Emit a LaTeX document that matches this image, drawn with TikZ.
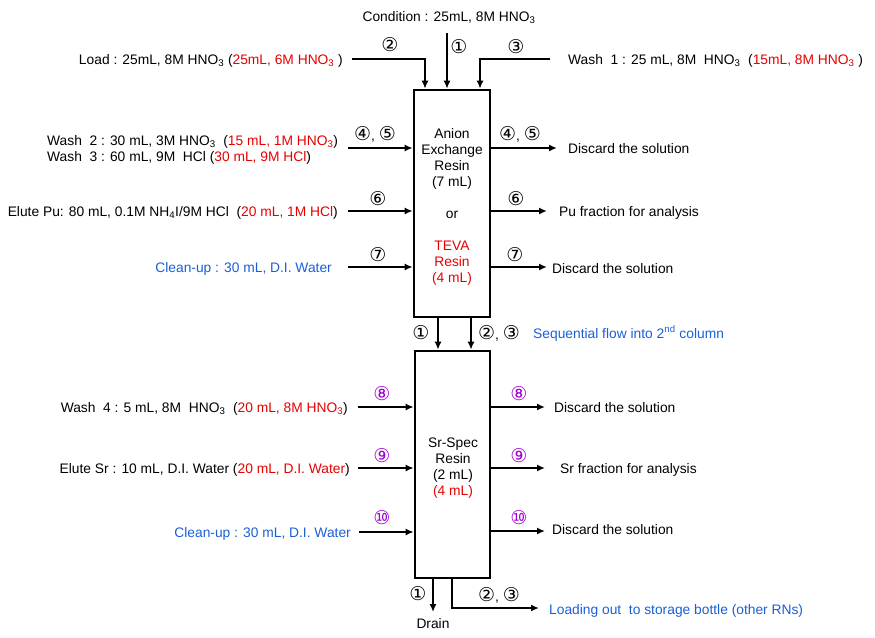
\documentclass[tikz,border=0pt]{standalone}
\usepackage{fontspec}
\setmainfont{Liberation Sans}
\newfontfamily\circfont{DejaVu Sans}
\usetikzlibrary{arrows.meta}
\definecolor{myred}{RGB}{230,0,0}
\definecolor{myblue}{RGB}{25,95,215}
\definecolor{mypurple}{RGB}{160,0,210}
\newcommand{\ssb}[1]{\textsubscript{#1}}
\newcommand{\cmsep}{{\normalfont\fontsize{13.8}{16}\selectfont,\ }}
\begin{document}
\begin{tikzpicture}[x=1pt,y=-1pt,
  font=\fontsize{13.8}{16}\selectfont,
  box/.style={draw, line width=2.6pt, inner sep=0pt},
  arr/.style={line width=1.6pt, -{Latex[length=8pt,width=7pt]}},
  num/.style={font=\circfont\fontsize{19}{20}\selectfont, inner sep=0pt},
  pnum/.style={num, text=mypurple},
  txt/.style={inner sep=0pt, yshift=-2.5pt},
  lt/.style={txt, anchor=mid west},
  rt/.style={txt, anchor=mid east},
  inbox/.style={inner sep=0pt, align=center, font=\fontsize{13.8}{16}\selectfont}
]
\useasboundingbox (0,0) rectangle (875,637);

% columns
\node[box, minimum width=76pt, minimum height=227pt] (col1) at (452,203.5) {};
\node[box, minimum width=75pt, minimum height=227pt] (col2) at (452.5,464.5) {};

% column texts
\node[inbox] (c1a) at (452,159) {Anion\\Exchange\\Resin\\(7 mL)};
\node[inbox] (c1or) at (452,215) {or};
\node[inbox, text=myred] (c1b) at (452,263) {TEVA\\Resin\\(4 mL)};
\node[inbox] (c2a) at (453,468) {Sr-Spec\\Resin\\(2 mL)\\[0pt]\textcolor{myred}{(4 mL)}};

% top inputs
\node[txt, anchor=mid] (cond) at (449,16) {Condition : 25mL, 8M HNO\ssb{3}};
\coordinate (s1) at (447,33);
\draw[arr] (s1) -- (s1 |- col1.north);
\node[num] (n1t) at (459,47) {①};

\node[rt] (load) at (343,59) {Load : 25mL, 8M HNO\ssb{3} (\textcolor{myred}{25mL, 6M HNO\ssb{3}} )};
\coordinate (s2) at (352,59);
\coordinate (t2) at (425,90);
\draw[arr] (s2) -| (t2 |- col1.north);
\node[num] (n2t) at (390,45) {②};

\node[lt] (wash1) at (568,59) {Wash \ 1 : 25 mL, 8M \ HNO\ssb{3} \ (\textcolor{myred}{15mL, 8M HNO\ssb{3}} )};
\coordinate (s3) at (550,59);
\coordinate (t3) at (480,90);
\draw[arr] (s3) -| (t3 |- col1.north);
\node[num] (n3t) at (516,47) {③};

% left inputs column 1
\node[lt] (wash2) at (47,140) {Wash \ 2 : 30 mL, 3M HNO\ssb{3} \ (\textcolor{myred}{15 mL, 1M HNO\ssb{3}})};
\node[lt] (wash3) at (47,156) {Wash \ 3 : 60 mL, 9M \ HCl (\textcolor{myred}{30 mL, 9M HCl})};
\coordinate (s45) at (348,148);
\draw[arr] (s45) -- (s45 -| col1.west);
\node[num] (n45l) at (375,134) {④\cmsep⑤};

\node[rt] (elutepu) at (338,211) {Elute Pu: 80 mL, 0.1M NH\ssb{4}I/9M HCl \ (\textcolor{myred}{20 mL, 1M HCl})};
\coordinate (s6) at (348,211);
\draw[arr] (s6) -- (s6 -| col1.west);
\node[num] (n6l) at (378,199) {⑥};

\node[rt, text=myblue] (clean1) at (332,267) {Clean-up : 30 mL, D.I. Water};
\coordinate (s7) at (348,267);
\draw[arr] (s7) -- (s7 -| col1.west);
\node[num] (n7l) at (378,255) {⑦};

% right outputs column 1
\coordinate (e45) at (557,148);
\draw[arr] (col1.east |- e45) -- (e45);
\node[num] (n45r) at (520,134) {④\cmsep⑤};
\node[lt] (disc1) at (568,148) {Discard the solution};

\coordinate (e6) at (547,211);
\draw[arr] (col1.east |- e6) -- (e6);
\node[num] (n6r) at (516,199) {⑥};
\node[lt] (pufrac) at (559,211) {Pu fraction for analysis};

\coordinate (e7) at (547,267);
\draw[arr] (col1.east |- e7) -- (e7);
\node[num] (n7r) at (515,255) {⑦};
\node[lt] (disc2) at (552,268) {Discard the solution};

% between columns
\coordinate (m1) at (438,334);
\coordinate (m2) at (471,334);
\draw[arr] (m1 |- col1.south) -- (m1 |- col2.north);
\draw[arr] (m2 |- col1.south) -- (m2 |- col2.north);
\node[num] (n1m) at (421,333) {①};
\node[num] (n23m) at (499,333) {②\cmsep③};
\node[lt, text=myblue] (seq) at (533,333) {Sequential flow into 2\textsuperscript{nd} column};

% left inputs column 2
\node[rt] (wash4) at (348,407) {Wash \ 4 : 5 mL, 8M \ HNO\ssb{3} \ (\textcolor{myred}{20 mL, 8M HNO\ssb{3}})};
\coordinate (s8) at (358,407);
\draw[arr] (s8) -- (s8 -| col2.west);
\node[pnum] (n8l) at (382,394) {⑧};

\node[rt] (elutesr) at (350,468) {Elute Sr : 10 mL, D.I. Water (\textcolor{myred}{20 mL, D.I. Water})};
\coordinate (s9) at (358,468);
\draw[arr] (s9) -- (s9 -| col2.west);
\node[pnum] (n9l) at (382,456) {⑨};

\node[rt, text=myblue] (clean2) at (351,532) {Clean-up : 30 mL, D.I. Water};
\coordinate (s10) at (359,532);
\draw[arr] (s10) -- (s10 -| col2.west);
\node[pnum] (n10l) at (382,518) {⑩};

% right outputs column 2
\coordinate (e8) at (545,407);
\draw[arr] (col2.east |- e8) -- (e8);
\node[pnum] (n8r) at (519,394) {⑧};
\node[lt] (disc3) at (554,407) {Discard the solution};

\coordinate (e9) at (545,468);
\draw[arr] (col2.east |- e9) -- (e9);
\node[pnum] (n9r) at (519,456) {⑨};
\node[lt] (srfrac) at (560,468) {Sr fraction for analysis};

\coordinate (e10) at (545,531);
\draw[arr] (col2.east |- e10) -- (e10);
\node[pnum] (n10r) at (519,518) {⑩};
\node[lt] (disc4) at (552,529) {Discard the solution};

% bottom
\coordinate (d1) at (433,612);
\draw[arr] (d1 |- col2.south) -- (d1);
\node[num] (n1b) at (418,594) {①};
\node[txt, anchor=mid] (drain) at (433,623) {Drain};

\coordinate (b2) at (452,608);
\coordinate (e23) at (539,608);
\draw[arr] (b2 |- col2.south) -- (b2) -- (e23);
\node[num] (n23b) at (499,595) {②\cmsep③};
\node[lt, text=myblue] (loadout) at (549,609) {Loading out \ to storage bottle (other RNs)};
\end{tikzpicture}
\end{document}
